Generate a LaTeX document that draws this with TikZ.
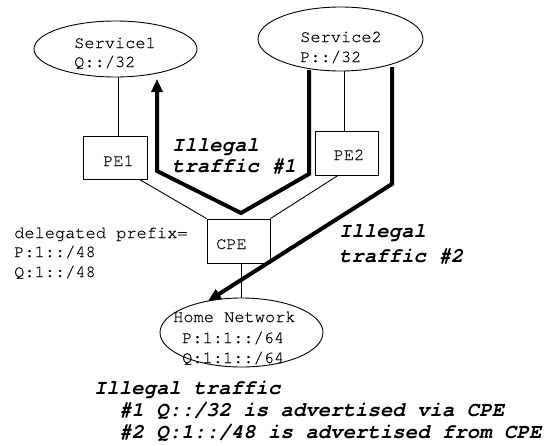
\documentclass[tikz,border=0pt]{standalone}
\usepackage{fontspec}
\newfontfamily\monofnt[Ligatures={NoCommon},UprightFeatures={FakeBold=0.4}]{TeX Gyre Cursor}
\usetikzlibrary{shapes.geometric,arrows.meta,calc}
\tikzset{
  thin line/.style={line width=0.9pt},
  ell/.style={ellipse,draw,thin line,inner sep=0pt},
  boxnode/.style={rectangle,draw,thin line,inner sep=0pt},
  txt/.style={anchor=base west,inner sep=0pt,font=\monofnt\fontsize{17}{20}\selectfont},
  ctxt/.style={anchor=base,inner sep=0pt,font=\monofnt\fontsize{17}{20}\selectfont},
  boldtxt/.style={anchor=base west,inner sep=0pt,font=\monofnt\bfseries\itshape\fontsize{20.7}{24}\selectfont},
  thick arrow/.style={line width=4pt,miter limit=20,-{Triangle[length=13pt,width=11pt]}}
}
\begin{document}
\begin{tikzpicture}[x=1pt,y=-1pt]
\useasboundingbox (0,0) rectangle (549,445);
% ellipses
\node[ell,minimum width=163pt,minimum height=56pt] (s1) at (115.5,49) {};
\node[ell,minimum width=165pt,minimum height=64pt] (s2) at (340.5,39) {};
\node[ell,minimum width=163pt,minimum height=69pt] (home) at (241.5,332.5) {};
% boxes
\node[boxnode,minimum width=64pt,minimum height=43pt] (pe1) at (115,157.5) {};
\node[boxnode,minimum width=63pt,minimum height=44pt] (pe2) at (346.5,153) {};
\node[boxnode,minimum width=63pt,minimum height=44pt] (cpe) at (238.5,241) {};
% texts
\node[txt] (t1a) at (74,48) {Service1};
\node[txt] (t1b) at (74,67) {Q::/32};
\node[txt] (t2a) at (300,42) {Service2};
\node[txt] (t2b) at (300,62) {P::/32};
\node[ctxt] (tpe1) at (118.5,166) {PE1};
\node[ctxt] (tpe2) at (349,160) {PE2};
\node[ctxt] (tcpe) at (231.5,249) {CPE};
\node[txt] (d1) at (14,238) {delegated prefix=};
\node[txt] (d2) at (14,257) {P:1::/48};
\node[txt] (d3) at (14,277) {Q:1::/48};
\node[txt] (h1) at (173,322) {Home Network};
\node[txt] (h2) at (182,343) {P:1:1::/64};
\node[txt] (h3) at (182,363) {Q:1:1::/64};
\node[boldtxt] (l1a) at (172,151) {Illegal};
\node[boldtxt] (l1b) at (172,172) {traffic \#1};
\node[boldtxt] (l2a) at (339,237) {Illegal};
\node[boldtxt] (l2b) at (339,262) {traffic \#2};
\node[boldtxt] (b1) at (94,394) {Illegal traffic};
\node[boldtxt] (b2) at (119,416) {\#1 Q::/32 is advertised via CPE};
\node[boldtxt] (b3) at (119,438) {\#2 Q:1::/48 is advertised from CPE};
% thin connectors
\draw[thin line] ($(s1.south)+(2.5,0)$) -- ($(s1.south |- pe1.north)+(2.5,0)$);
\draw[thin line] ($(pe2.north)+(-2.5,0)$) -- ($(pe2.north |- s2.south)+(-2.5,0)$);
\draw[thin line] ($(pe1.south east)+(-8,0)$) -- (cpe.north west);
\draw[thin line] ($(pe2.south)+(-8.5,0)$) -- (cpe.north east);
\draw[thin line] (cpe.south -| home.north) -- (home.north);
% thick arrows
\coordinate (a1s) at (309,70);
\coordinate (a1b) at (309,174);
\coordinate (a1c) at (241,213);
\coordinate (a1d) at (157,171);
\coordinate (a1e) at (157,79);
\draw[thick arrow] (a1s) -- (a1b) -- (a1c) -- (a1d) -- (a1e);
\coordinate (a2s) at (392,67);
\coordinate (a2b) at (392,184);
\coordinate (a2e) at (208,301);
\draw[thick arrow] (a2s) -- (a2b) -- (a2e);
\end{tikzpicture}
\end{document}
